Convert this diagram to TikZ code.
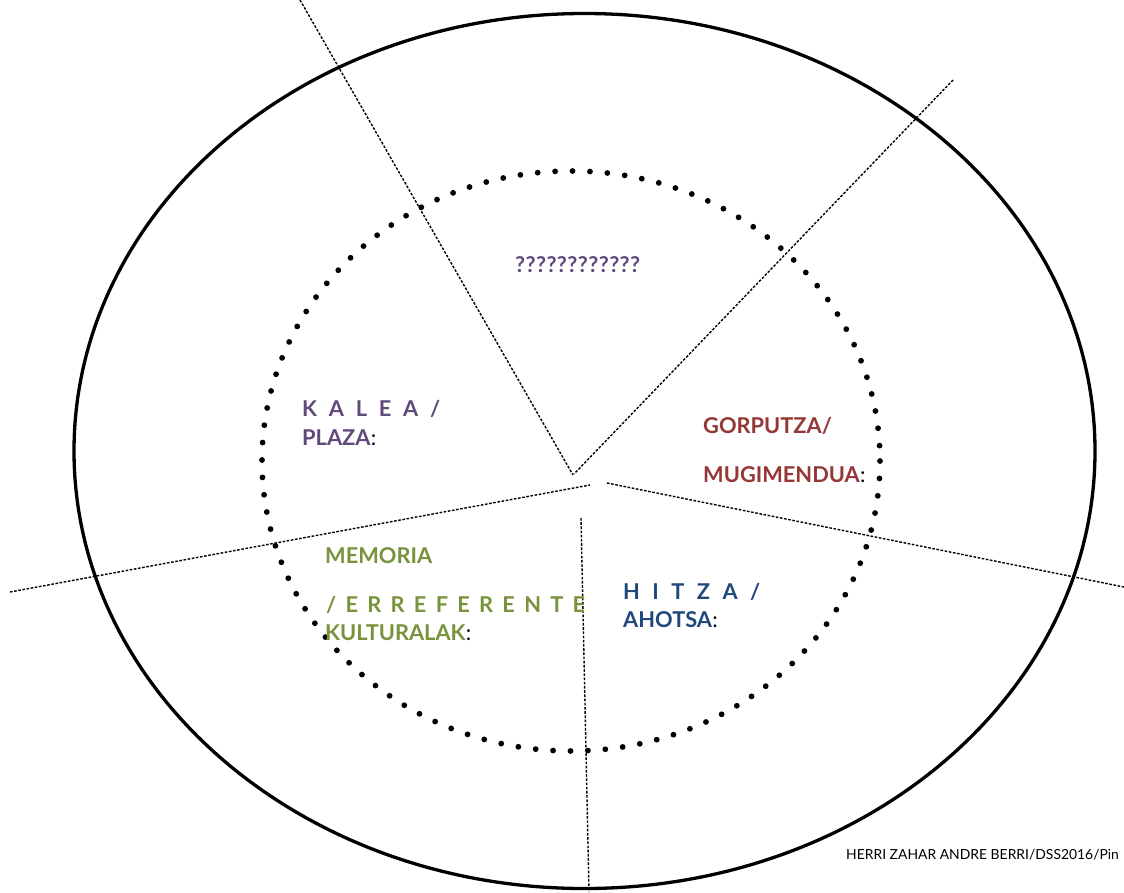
\documentclass[tikz,border=0pt]{standalone}
\usepackage{fontspec}
\setmainfont{Lato}
\definecolor{cpurple}{HTML}{604A7B}
\definecolor{cred}{HTML}{953735}
\definecolor{cgreen}{HTML}{77933C}
\definecolor{cblue}{HTML}{1F497D}
\tikzset{
  divider/.style={line width=1.4pt, dash pattern=on 2.6pt off 1.6pt},
  outerring/.style={line width=3.3pt},
  innerring/.style={line width=5.8pt, line cap=round, dash pattern=on 0pt off 17.45pt},
  lbl/.style={anchor=base west, inner sep=0pt, font=\fontsize{21.8}{26}\selectfont\bfseries},
  colon/.style={anchor=base west, inner sep=0pt, font=\fontsize{21.8}{26}\selectfont},
}
\begin{document}
\begin{tikzpicture}[x=1pt,y=-1pt]
\useasboundingbox (0,0) rectangle (1124,892);
\clip (0,0) rectangle (1124,892);
\fill[white] (0,0) rectangle (1124,892);
% outer ellipse
\draw[outerring] (584.5,451) ellipse [x radius=510.5, y radius=437.5];
% inner dotted ellipse
\draw[innerring] (571,461) ellipse [x radius=309, y radius=290];
% divider coordinates
\coordinate (a1) at (300,0);    \coordinate (a2) at (573,475);
\coordinate (b1) at (953,80);   \coordinate (b2) at (574,474);
\coordinate (c1) at (10,592);   \coordinate (c2) at (590,485);
\coordinate (d1) at (607,483);  \coordinate (d2) at (1124,587);
\coordinate (e1) at (581,518);  \coordinate (e2) at (589,892);
\draw[divider] (a1) -- (a2);
\draw[divider] (b1) -- (b2);
\draw[divider] (c1) -- (c2);
\draw[divider] (d1) -- (d2);
\draw[divider] (e1) -- (e2);
% labels
\node[lbl, text=cpurple] (q) at (515,272) {\makebox[125pt][s]{?\hfill?\hfill?\hfill?\hfill?\hfill?\hfill?\hfill?\hfill?\hfill?\hfill?\hfill?}};
\node[lbl, text=cpurple] (kal1) at (302,416) {\makebox[138pt][s]{K\hfill A\hfill L\hfill E\hfill A\hfill /}};
\node[lbl, text=cpurple] (kal2) at (302,445) {PLAZA};
\node[colon] (kal3) at (kal2.base east) {:};
\node[lbl, text=cred] (gor1) at (703,433) {GORPUTZA/};
\node[lbl, text=cred] (gor2) at (703,482) {MUGIMENDUA};
\node[colon] (gor3) at (gor2.base east) {:};
\node[lbl, text=cgreen] (mem1) at (325,563) {MEMORIA};
\node[lbl, text=cgreen] (mem2) at (326,612) {\makebox[259pt][s]{/\hfill E\hfill R\hfill R\hfill E\hfill F\hfill E\hfill R\hfill E\hfill N\hfill T\hfill E}};
\node[lbl, text=cgreen] (mem3) at (325,640) {KULTURALAK};
\node[colon] (mem4) at (mem3.base east) {:};
\node[lbl, text=cblue] (hit1) at (623,599) {\makebox[137pt][s]{H\hfill I\hfill T\hfill Z\hfill A\hfill /}};
\node[lbl, text=cblue] (hit2) at (623,627) {AHOTSA};
\node[colon] (hit3) at (hit2.base east) {:};
\node[anchor=base west, inner sep=0pt, font=\fontsize{13.9}{17}\selectfont] (foot) at (846,859) {HERRI ZAHAR ANDRE BERRI/DSS2016/Pin};
\end{tikzpicture}
\end{document}
